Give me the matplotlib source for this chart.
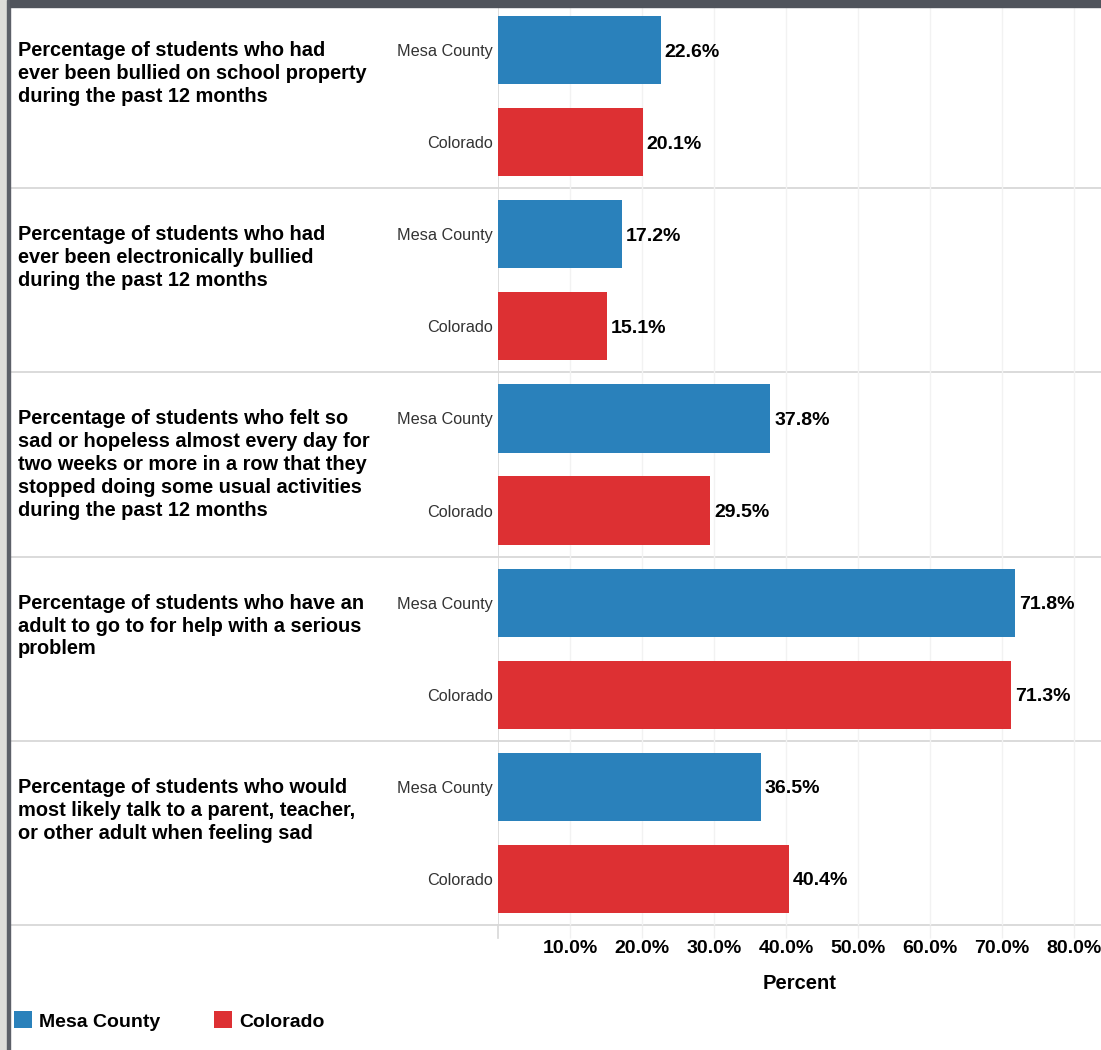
import matplotlib
matplotlib.use("Agg")
import matplotlib.pyplot as plt
import matplotlib.transforms as mtransforms
from matplotlib.patches import Rectangle
import numpy as np

plt.rcParams['font.family'] = ['Liberation Sans', 'DejaVu Sans']

questions = [
    "Percentage of students who had\never been bullied on school property\nduring the past 12 months",
    "Percentage of students who had\never been electronically bullied\nduring the past 12 months",
    "Percentage of students who felt so\nsad or hopeless almost every day for\ntwo weeks or more in a row that they\nstopped doing some usual activities\nduring the past 12 months",
    "Percentage of students who have an\nadult to go to for help with a serious\nproblem",
    "Percentage of students who would\nmost likely talk to a parent, teacher,\nor other adult when feeling sad",
]
series_names = ["Mesa County", "Colorado"]
mesa = [22.6, 17.2, 37.8, 71.8, 36.5]
colorado = [20.1, 15.1, 29.5, 71.3, 40.4]
tick_values = [10, 20, 30, 40, 50, 60, 70, 80]
tick_labels = ["10.0%", "20.0%", "30.0%", "40.0%", "50.0%", "60.0%", "70.0%", "80.0%"]

BLUE = "#2a81bb"
RED = "#dd3033"

W, H = 1101, 1050
fig = plt.figure(figsize=(W / 100, H / 100), dpi=100)
fig.patch.set_facecolor("white")

ax_left, ax_right, ax_top, ax_bot = 498, 1101, 4, 925
ax = fig.add_axes([ax_left / W, 1 - ax_bot / H, (ax_right - ax_left) / W, (ax_bot - ax_top) / H])

n = len(questions)
idx = np.arange(n)
bh = 0.37
y_mesa = idx + 0.25
y_col = idx + 0.75
b1 = ax.barh(y_mesa, mesa, height=bh, color=BLUE, label=series_names[0], zorder=3)
b2 = ax.barh(y_col, colorado, height=bh, color=RED, label=series_names[1], zorder=3)

xmax = (ax_right - ax_left) / 7.2
ax.set_xlim(0, xmax)
ax.set_ylim(n, 0)

for s in ax.spines.values():
    s.set_visible(False)

ax.set_xticks(tick_values)
ax.set_xticklabels(tick_labels, fontsize=14, fontweight='bold')
ax.tick_params(axis='x', length=9, color='#f0f0f0', width=1, pad=2)
ax.grid(axis='x', color='#f2f2f2', lw=1, zorder=0)
ax.axvline(0, color='#d8d8d8', lw=1.2, zorder=2)
ax.plot([0, 0], [n, n + 0.07], color='#d8d8d8', lw=1.2, clip_on=False)

yt = np.concatenate([y_mesa, y_col])
ax.set_yticks(yt)
ax.set_yticklabels([series_names[0]] * n + [series_names[1]] * n, fontsize=11.7, color='#333333')
ax.tick_params(axis='y', length=0, pad=4)

ax.set_xlabel("Percent", fontsize=14.5, fontweight='bold', labelpad=12)

# value labels
off = mtransforms.offset_copy(ax.transData, fig=fig, x=4, y=-2, units='dots')
for v, y in zip(mesa, y_mesa):
    ax.text(v, y, f"{v:.1f}%", transform=off, ha='left', va='center', fontsize=14, fontweight='bold', zorder=4)
for v, y in zip(colorado, y_col):
    ax.text(v, y, f"{v:.1f}%", transform=off, ha='left', va='center', fontsize=14, fontweight='bold', zorder=4)

# row separators
for b in range(1, n + 1):
    ax.axhline(b, xmin=(10 - ax_left) / (ax_right - ax_left), xmax=1, color='#d4d4d4', lw=1.2, clip_on=False, zorder=1)

# question texts
blend = mtransforms.blended_transform_factory(fig.transFigure, ax.transData)
qtrans = mtransforms.offset_copy(blend, fig=fig, x=0, y=9, units='dots')
for q, y in zip(questions, y_mesa):
    ax.text(18 / W, y, q, transform=qtrans, ha='left', va='top', fontsize=14.4, fontweight='bold', linespacing=1.26)

# frame decoration
fig.add_artist(Rectangle((0, 0), 7 / W, 1, transform=fig.transFigure, color='#dededa', zorder=10))
fig.add_artist(Rectangle((7 / W, 0), 3 / W, 1, transform=fig.transFigure, color='#5c6068', zorder=10))
fig.add_artist(Rectangle((10 / W, 1 - 7 / H), 1, 7 / H, transform=fig.transFigure, color='#50545c', zorder=10))

# legend
leg = fig.legend(handles=[b1, b2], labels=series_names, loc='center left',
                 bbox_to_anchor=(6 / W, 1 - 1021 / H), ncol=2, frameon=False,
                 prop={'size': 14, 'weight': 'bold'}, handlelength=0.95, handleheight=0.95,
                 handletextpad=0.35, columnspacing=2.75, borderaxespad=0)

fig.savefig("out.png", dpi=100)
